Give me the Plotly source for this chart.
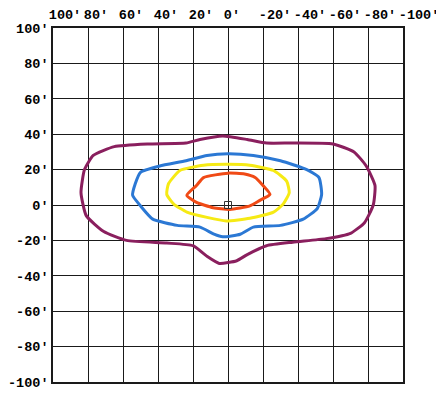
import plotly.graph_objects as go

# Isoline contours (x in degrees, y in degrees)
purple_x = [3, -11, -22, -37, -60, -72, -79, -84, -83, -78, -70, -56, -37, -22, -11, -5, 5, 12, 20, 35, 58, 71, 81, 84, 82, 77, 65, 46, 24, 16]
purple_y = [39, 37, 35, 35, 34.5, 30, 22, 11, 0, -10, -16, -19, -21, -23, -28, -31.5, -33, -29, -23, -21.5, -20, -15, -6, 7, 20, 28, 33, 34.5, 35, 37]

blue_x = [0, -14.5, -30, -45, -52, -53.5, -51, -43, -30, -14.5, -7, 3, 8, 16, 29, 43, 50, 54.5, 53, 50, 39, 24, 12]
blue_y = [29, 28, 25, 20, 15.5, 6, -2, -8, -11.5, -12.5, -16.5, -18, -16.5, -12.5, -11.5, -8, -0.5, 5.5, 12, 18.5, 22, 25, 28]

yellow_x = [0, -12.5, -26, -33.5, -35, -31.5, -26, -12.5, 1, 12, 23.5, 31, 35, 34, 27.5, 14]
yellow_y = [23, 22.5, 19.5, 13.5, 7, 0.5, -4, -7.5, -9, -7, -4, 0.5, 6, 12, 19.5, 22.5]

red_x = [0, -9.5, -15.5, -20, -24, -18, -12.5, -1, 8.5, 18, 23.5, 18, 14]
red_y = [18, 17.5, 15.5, 11, 6, 2.5, -0.5, -2.5, -1.5, 1.5, 5.5, 11, 15.5]

center_x = [0]
center_y = [0]

tick_vals = [100, 80, 60, 40, 20, 0, -20, -40, -60, -80, -100]
tick_text = ["100'", "80'", "60'", "40'", "20'", "0'", "-20'", "-40'", "-60'", "-80'", "-100'"]

series = [
    (purple_x, purple_y, "#8a1f5e"),
    (blue_x, blue_y, "#2b78d4"),
    (yellow_x, yellow_y, "#f6ea14"),
    (red_x, red_y, "#f04a16"),
]

fig = go.Figure()
for xs, ys, col in series:
    fig.add_trace(go.Scatter(
        x=xs + xs[:1], y=ys + ys[:1], mode="lines",
        line=dict(color=col, width=3, shape="spline", smoothing=0.5),
        hoverinfo="skip", showlegend=False,
    ))

fig.add_trace(go.Scatter(
    x=center_x, y=center_y, mode="markers",
    marker=dict(symbol="square-open", size=7, color="#333333", line=dict(width=1)),
    showlegend=False,
))

font = dict(family="Liberation Mono", size=13.5, color="black", weight="bold")

fig.update_layout(
    width=436, height=385,
    margin=dict(l=45, r=41, t=20, b=11),
    paper_bgcolor="white", plot_bgcolor="white",
    xaxis=dict(
        range=[100, -100], side="top", tickangle=0, automargin=False,
        tickvals=tick_vals, ticktext=tick_text,
        ticklabelposition="outside right", ticks="", ticklabelstandoff=2,
        ticklabelshift=5, ticklabeloverflow="allow",
        showgrid=True, gridcolor="#1a1a1a", gridwidth=1.3,
        showline=True, linecolor="#1a1a1a", linewidth=1.6, mirror=True,
        zeroline=False, tickfont=font, fixedrange=True,
    ),
    yaxis=dict(
        range=[-100, 100], automargin=False,
        tickvals=tick_vals, ticktext=tick_text,
        ticks="", ticklabelstandoff=0, ticklabeloverflow="allow",
        showgrid=True, gridcolor="#1a1a1a", gridwidth=1.3,
        showline=True, linecolor="#1a1a1a", linewidth=1.6, mirror=True,
        zeroline=False, tickfont=font, fixedrange=True,
    ),
)

fig.write_html("out.html")
